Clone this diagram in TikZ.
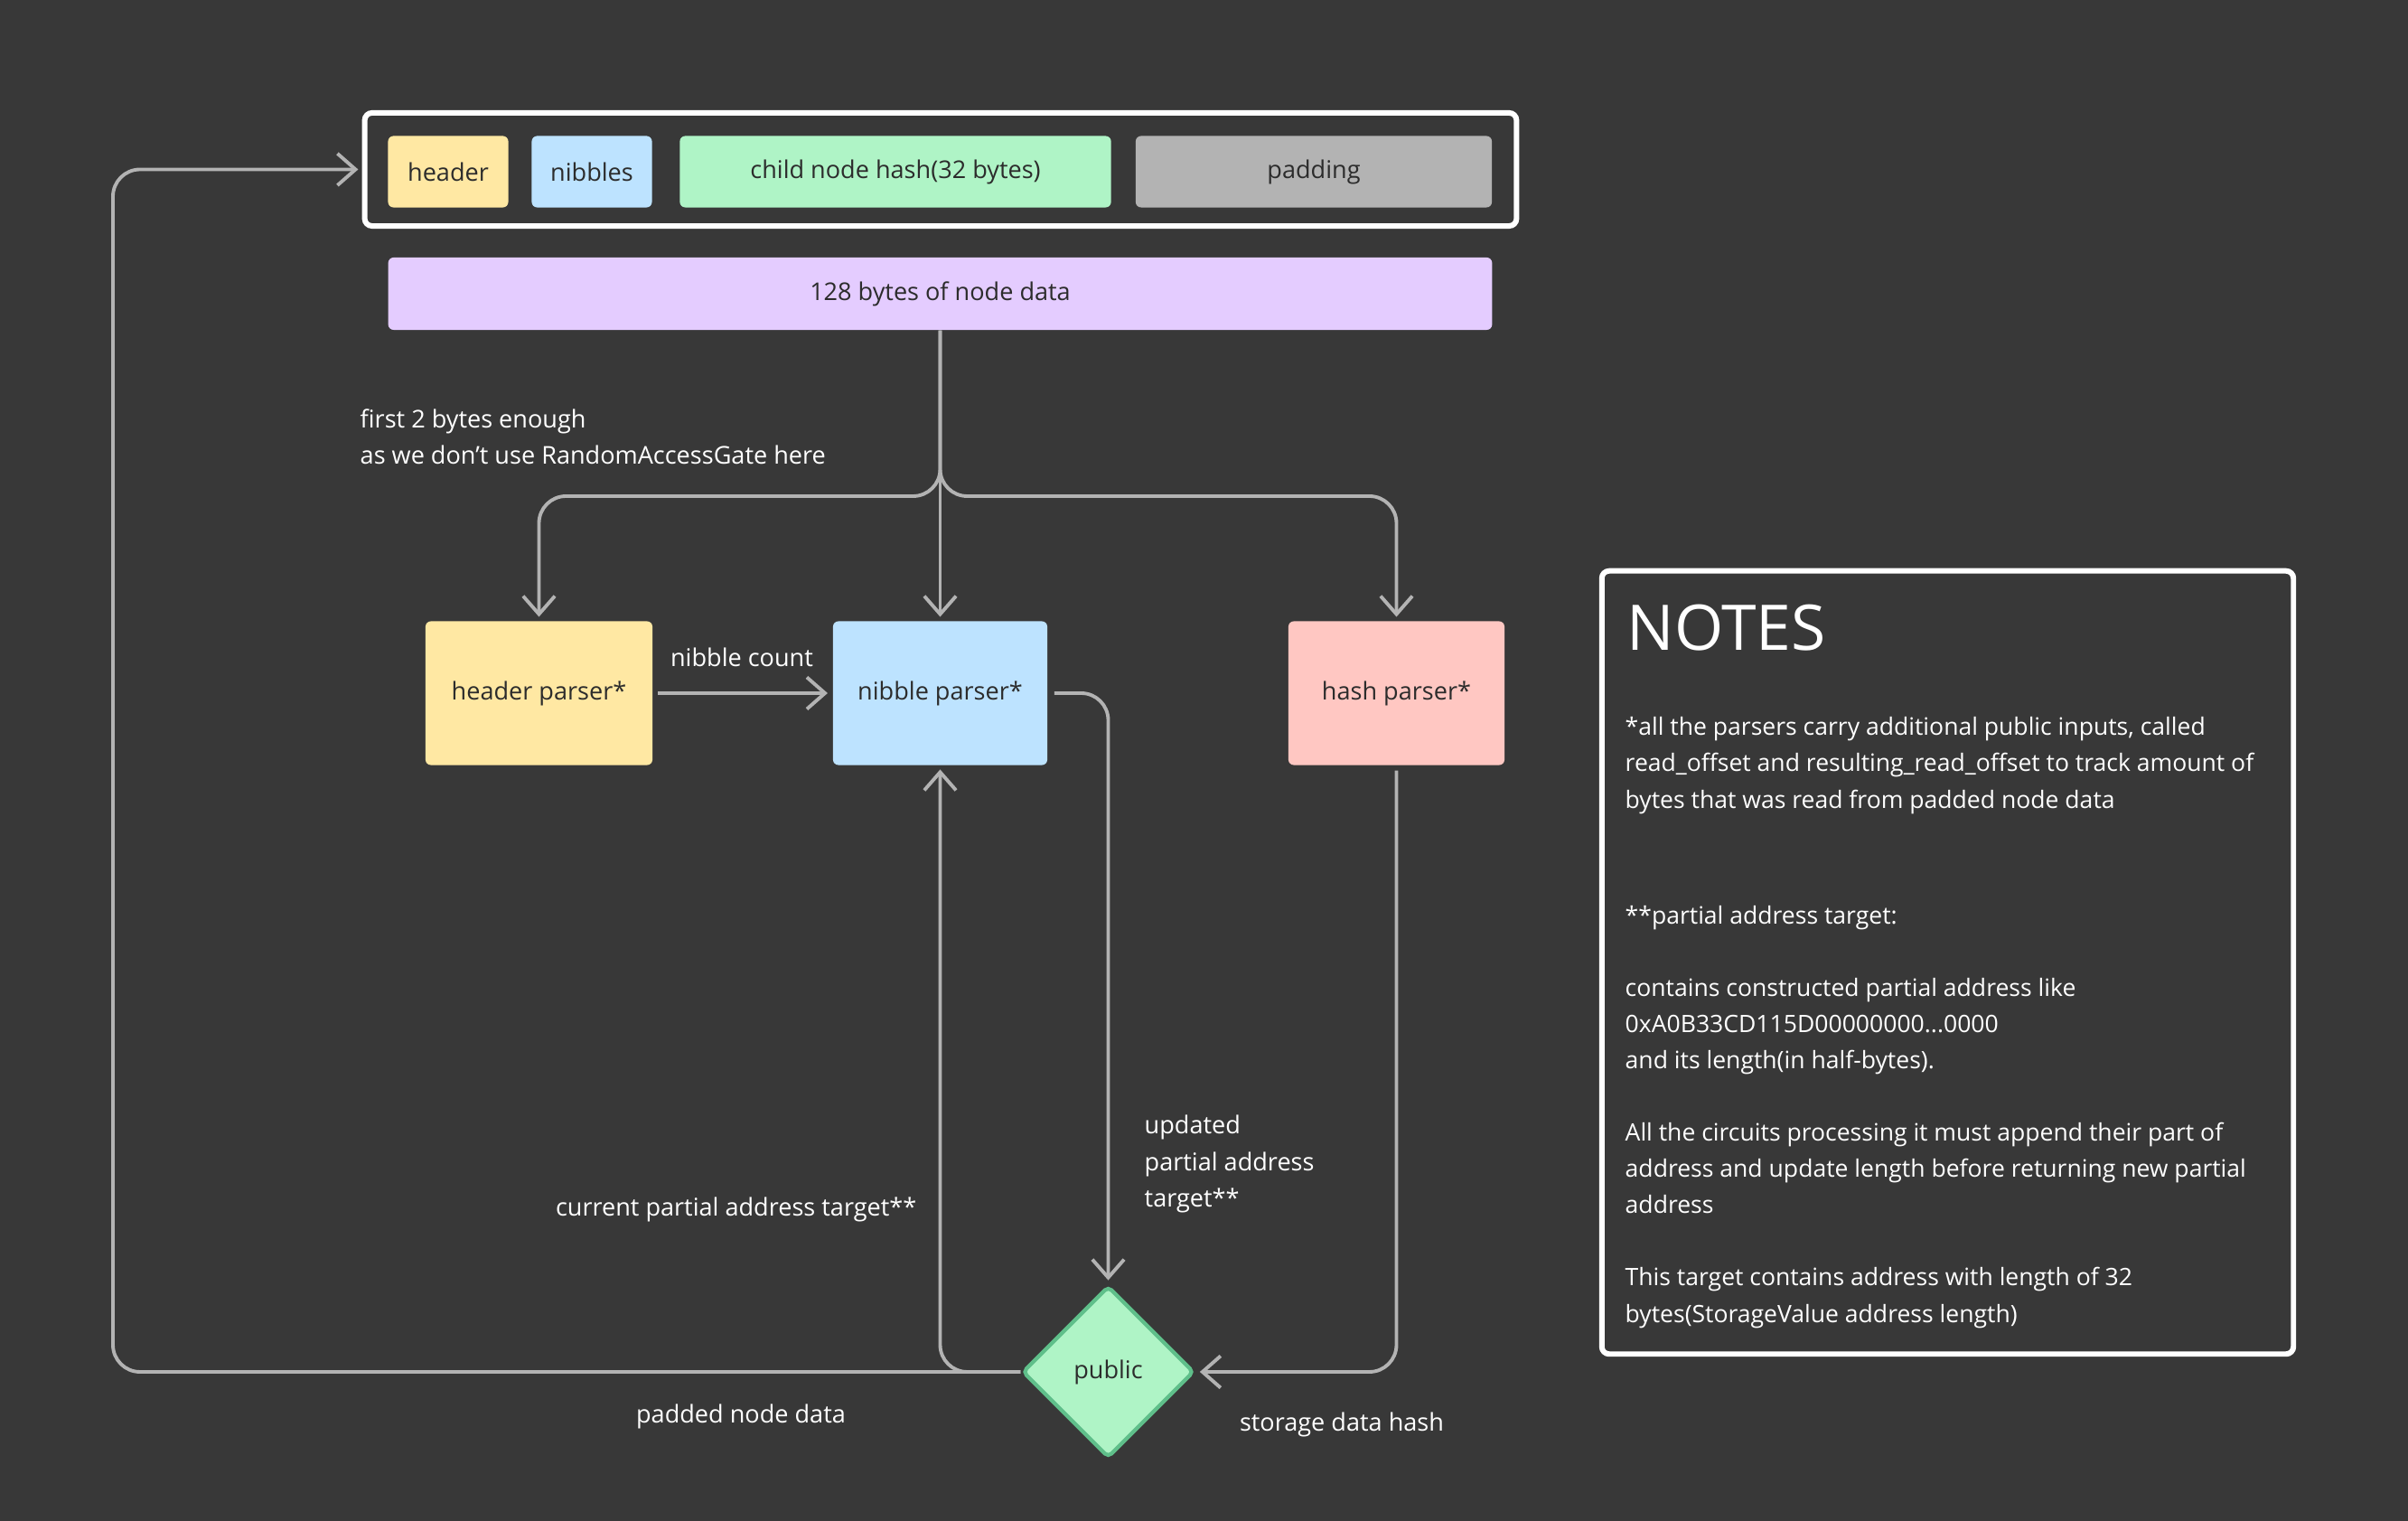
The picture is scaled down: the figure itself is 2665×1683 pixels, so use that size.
\documentclass[tikz,border=0pt]{standalone}
\usepackage{fontspec}
\setmainfont{Open Sans}
\usetikzlibrary{arrows.meta,shapes.geometric,calc}

\definecolor{bg}{HTML}{383838}
\definecolor{wire}{HTML}{B3B3B3}
\definecolor{hdrcol}{HTML}{FFE8A3}
\definecolor{nibcol}{HTML}{BDE3FF}
\definecolor{hashcol}{HTML}{AFF4C6}
\definecolor{padcol}{HTML}{B3B3B3}
\definecolor{datacol}{HTML}{E4CCFF}
\definecolor{pinkcol}{HTML}{FFC7C2}
\definecolor{pubedge}{HTML}{5FBF8A}
\definecolor{inktext}{HTML}{2C2C2C}

\newcommand\diagfont{\fontsize{7.7}{11.4}\selectfont}
\newcommand\notefont{\fontsize{7.55}{11.4}\selectfont}

\tikzset{
	field/.style={rounded corners=1.7pt, inner sep=0pt, text=inktext, font=\diagfont},
	lbltxt/.style={inner sep=0pt, text=white, font=\diagfont},
	conn/.style={draw=wire, line width=1.1pt, rounded corners=8.5pt,
		-{Straight Barb[length=5.7pt,width=10pt]}, shorten >=1.2pt},
	pubdiam/.style={diamond, aspect=1, inner sep=0pt, minimum width=1.9cm, minimum height=1.9cm,
		fill=hashcol, draw=pubedge, line width=1.2pt, rounded corners=1.5pt, text=inktext, font=\diagfont}
}

\begin{document}
\begin{tikzpicture}[x=0.01cm, y=-0.01cm]
	%%%%% BACKGROUND %%%%%
	\useasboundingbox (0,0) rectangle (2665,1683);
	\fill[bg] (0,0) rectangle (2665,1683);

	%%%%% NODE LAYOUT %%%%%
	\node[draw=white, line width=1.7pt, rounded corners=2.3pt, minimum width=12.74cm, minimum height=1.25cm] (frame) at (1041,187.5) {};
	\node[field, fill=hdrcol, minimum width=1.33cm, minimum height=0.79cm] (hdr) at (496,190) {header};
	\node[field, fill=nibcol, minimum width=1.33cm, minimum height=0.79cm] (nib) at (655,190) {nibbles};
	\node[field, fill=hashcol, minimum width=4.77cm, minimum height=0.79cm] (chash) at (991,190) {child node hash(32 bytes)};
	\node[field, fill=padcol, minimum width=3.94cm, minimum height=0.79cm] (pad) at (1454,190) {padding};

	\node[field, fill=datacol, minimum width=12.21cm, minimum height=0.8cm] (data) at (1040.5,325) {128 bytes of node data};

	\node[field, fill=hdrcol, minimum width=2.51cm, minimum height=1.59cm] (hparser) at (596.5,767) {header parser*};
	\node[field, fill=nibcol, minimum width=2.37cm, minimum height=1.59cm] (nparser) at (1040.5,767) {nibble parser*};
	\node[field, fill=pinkcol, minimum width=2.39cm, minimum height=1.59cm] (sparser) at (1545.5,767) {hash parser*};

	\node[pubdiam] (pub) at (1226.5,1518) {public};

	\coordinate (fork) at (1040.5,549);
	\coordinate (loop) at (125,1518);

	%%%%% CONNECTORS %%%%%
	\draw[conn] (data) -- (nparser);
	\draw[conn] (data.south) -- (fork) -| (hparser.north);
	\draw[conn] (data.south) -- (fork) -| (sparser.north);
	\draw[conn, shorten <=1.5pt, shorten >=1.5pt] (hparser) -- (nparser);
	\draw[conn, shorten <=2pt] (nparser.east) -| (pub.north);
	\draw[conn, shorten <=1.5pt] (sparser.south) |- (pub.east);
	\draw[conn] (pub.west) -| (nparser.south);
	\draw[conn] (pub.west) -- (loop) |- (frame.west);

	%%%%% LABELS %%%%%
	\node[lbltxt, anchor=west, align=left] (firstnote) at (398,483) {first 2 bytes enough\\as we don’t use RandomAccessGate here};
	\node[lbltxt] (cnt) at (821,727) {nibble count};
	\node[lbltxt, anchor=west, align=left] (upd) at (1266,1288) {updated\\partial address\\target**};
	\node[lbltxt, anchor=east] (cur) at (1015,1338) {current partial address target**};
	\node[lbltxt] (padded) at (820,1567) {padded node data};
	\node[lbltxt] (stor) at (1485,1576) {storage data hash};

	%%%%% NOTES %%%%%
	\node[draw=white, line width=1.7pt, rounded corners=2.3pt, minimum width=7.65cm, minimum height=8.66cm] (notes) at (2155.5,1065) {};
	\node[anchor=base west, inner sep=0pt, text=white, font=\fontsize{19.8}{24}\selectfont] (title) at (1800,720) {NOTES};
	\node[anchor=north west, inner sep=0pt, text=white, font=\notefont, align=left] (body) at (1798,793) {%
		*all the parsers carry additional public inputs, called\\
		read\_offset and resulting\_read\_offset to track amount of\\
		bytes that was read from padded node data\\[25pt]
		**partial address target:\\[11.4pt]
		contains constructed partial address like\\
		0xA0B33CD115D00000000...0000\\
		and its length(in half-bytes).\\[11.4pt]
		All the circuits processing it must append their part of\\
		address and update length before returning new partial\\
		address\\[11.4pt]
		This target contains address with length of 32\\
		bytes(StorageValue address length)};
\end{tikzpicture}
\end{document}
